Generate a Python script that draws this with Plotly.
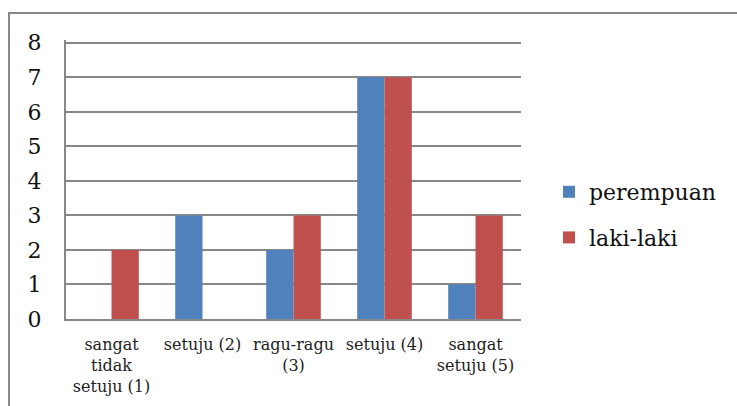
import plotly.graph_objects as go

# Survey responses by gender
categories = ["sangat<br>tidak<br>setuju (1)", "setuju (2)", "ragu-ragu<br>(3)",
              "setuju (4)", "sangat<br>setuju (5)"]
perempuan = [0, 3, 2, 7, 1]
laki_laki = [2, 0, 3, 7, 3]
y_ticks = [0, 1, 2, 3, 4, 5, 6, 7, 8]

BLUE = "#4F81BD"
RED = "#C0504D"
GRID = "#888888"
SERIF = "DejaVu Serif"

fig = go.Figure()
fig.add_trace(go.Bar(x=categories, y=perempuan, name="perempuan",
                     marker=dict(color=BLUE, line=dict(width=0)),
                     legendgroup="p"))
fig.add_trace(go.Bar(x=categories, y=laki_laki, name="laki-laki",
                     marker=dict(color=RED, line=dict(width=0)),
                     legendgroup="l"))

W, H = 737, 406
L, R, T, B = 66, 216, 40, 87
pw, ph = W - L - R, H - T - B

# outer chart border
bx0 = (9 - L) / pw
by1 = 1 + (T - 13) / ph
fig.add_shape(type="rect", xref="paper", yref="paper",
              x0=bx0, x1=1.6, y0=-0.6, y1=by1,
              line=dict(color=GRID, width=2), fillcolor="rgba(0,0,0,0)",
              layer="below")

fig.update_layout(
    width=W, height=H,
    margin=dict(l=L, r=R, t=T, b=B, pad=0, autoexpand=False),
    paper_bgcolor="white", plot_bgcolor="white",
    barmode="group", bargap=0.4, bargroupgap=0,
    showlegend=True,
    legend=dict(xref="container", yref="container",
                x=549 / W, xanchor="left", y=1 - 215 / H, yanchor="middle",
                font=dict(family=SERIF, size=22, color="#111111"),
                traceorder="grouped", tracegroupgap=14,
                bgcolor="rgba(0,0,0,0)", itemwidth=30),
    xaxis=dict(type="category", showgrid=False, showline=True,
               linecolor=GRID, linewidth=2, ticks="",
               ticklabelstandoff=10,
               tickfont=dict(family=SERIF, size=16, color="#222222"),
               tickangle=0),
    # headroom above 8 keeps the top gridline from being clipped at the edge
    yaxis=dict(range=[0, 8.08], tickvals=y_ticks, showgrid=True,
               gridcolor=GRID, gridwidth=2, showline=True,
               linecolor=GRID, linewidth=2, zeroline=False, ticks="",
               ticklabelstandoff=18,
               tickfont=dict(family=SERIF, size=22, color="#111111")),
)

fig.write_html("out.html")
